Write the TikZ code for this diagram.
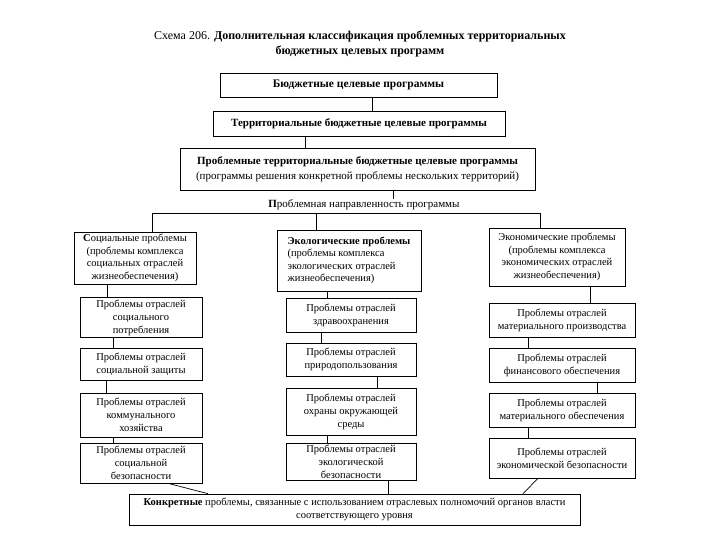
\documentclass[tikz,border=0pt]{standalone}
\usepackage{fontspec}
\setmainfont{Liberation Serif}
\begin{document}
\begin{tikzpicture}[x=1pt,y=-1pt,line width=0.7pt,
    box/.style={draw,align=center,inner sep=2pt,font=\fontsize{10.5}{13}\selectfont},
    head/.style={box,inner sep=1pt,font=\fontsize{10.5}{12.5}\selectfont}]
  \useasboundingbox (0,0) rectangle (720,540);

  \node [align=center,font=\fontsize{12}{15}\selectfont] (title) at (360,44)
    {Схема 206. \textbf{Дополнительная классификация проблемных территориальных}\\
     \textbf{бюджетных целевых программ}};

  \node [box,minimum width=277,minimum height=24,font=\bfseries\fontsize{11.5}{14}\selectfont] (b1) at (358.5,85)
    {Бюджетные целевые программы};
  \node [box,minimum width=292,minimum height=25,font=\bfseries\fontsize{11}{14}\selectfont] (b2) at (359,123.5)
    {Территориальные бюджетные целевые программы};
  \node [box,minimum width=355,minimum height=42,font=\fontsize{11}{15}\selectfont] (b3) at (357.5,169)
    {\textbf{Проблемные территориальные бюджетные целевые программы}\\
     (программы решения конкретной проблемы нескольких территорий)};
  \node [font=\fontsize{11}{13}\selectfont,inner sep=1pt] (dir) at (364,205)
    {\textbf{П}роблемная направленность программы};
  \coordinate (bar) at (0,213);

  % problem groups
  \node [head,minimum width=122,minimum height=52] (LH) at (135,258)
    {\textbf{С}оциальные проблемы\\(проблемы комплекса\\социальных отраслей\\жизнеобеспечения)};
  \node [head,align=left,minimum width=144,minimum height=61] (MH) at (349,260.5)
    {\textbf{Экологические проблемы}\\(проблемы комплекса\\экологических отраслей\\жизнеобеспечения)};
  \node [head,minimum width=136,minimum height=58] (RH) at (557,257)
    {Экономические проблемы\\(проблемы комплекса\\экономических отраслей\\жизнеобеспечения)};

  \foreach \n/\x/\y/\w/\h/\t in {
      L1/141/317.5/122/39/{Проблемы отраслей\\социального\\потребления},
      L2/141/364/122/32/{Проблемы отраслей\\социальной защиты},
      L3/141/415/122/44/{Проблемы отраслей\\коммунального\\хозяйства},
      L4/141/463/122/40/{Проблемы отраслей\\социальной\\безопасности},
      M1/351/315/130/34/{Проблемы отраслей\\здравоохранения},
      M2/351/359.5/130/33/{Проблемы отраслей\\природопользования},
      M3/351/411.5/130/47/{Проблемы отраслей\\охраны окружающей\\среды},
      M4/351/462/130/36/{Проблемы отраслей\\экологической\\безопасности},
      R1/562/320/146/34/{Проблемы отраслей\\материального производства},
      R2/562/365/146/34/{Проблемы отраслей\\финансового обеспечения},
      R3/562/410/146/34/{Проблемы отраслей\\материального обеспечения},
      R4/562/458/146/40/{Проблемы отраслей\\экономической безопасности}}
    \node [box,minimum width=\w,minimum height=\h] (\n) at (\x,\y) {\t};

  \node [box,minimum width=451,minimum height=31] (bot) at (354.5,509.5)
    {\textbf{Конкретные} проблемы, связанные с использованием отраслевых полномочий органов власти\\
     соответствующего уровня};

  \draw (b1.south -| 372,0) -- (b2.north -| 372,0);
  \draw (b2.south -| 305,0) -- (b3.north -| 305,0);
  \draw (b3.south -| 393,0) -- (dir.north -| 393,0);
  \draw (LH.north -| 152,0) -- (152,0 |- bar) -- (540,0 |- bar) -- (RH.north -| 540,0);
  \draw (316,0 |- bar) -- (MH.north -| 316,0);

  \foreach \a/\b/\x in {LH/L1/107, L1/L2/113, L2/L3/106, L3/L4/113,
                        MH/M1/327, M1/M2/321, M2/M3/377, M3/M4/327, M4/bot/388,
                        RH/R1/590, R1/R2/528, R2/R3/597, R3/R4/528}
    \draw (\a.south -| \x,0) -- (\b.north -| \x,0);
  \draw (L4.south -| 168,0) -- (bot.north -| 208,0);
  \draw (R4.south -| 538,0) -- (bot.north -| 523,0);

\end{tikzpicture}
\end{document}
